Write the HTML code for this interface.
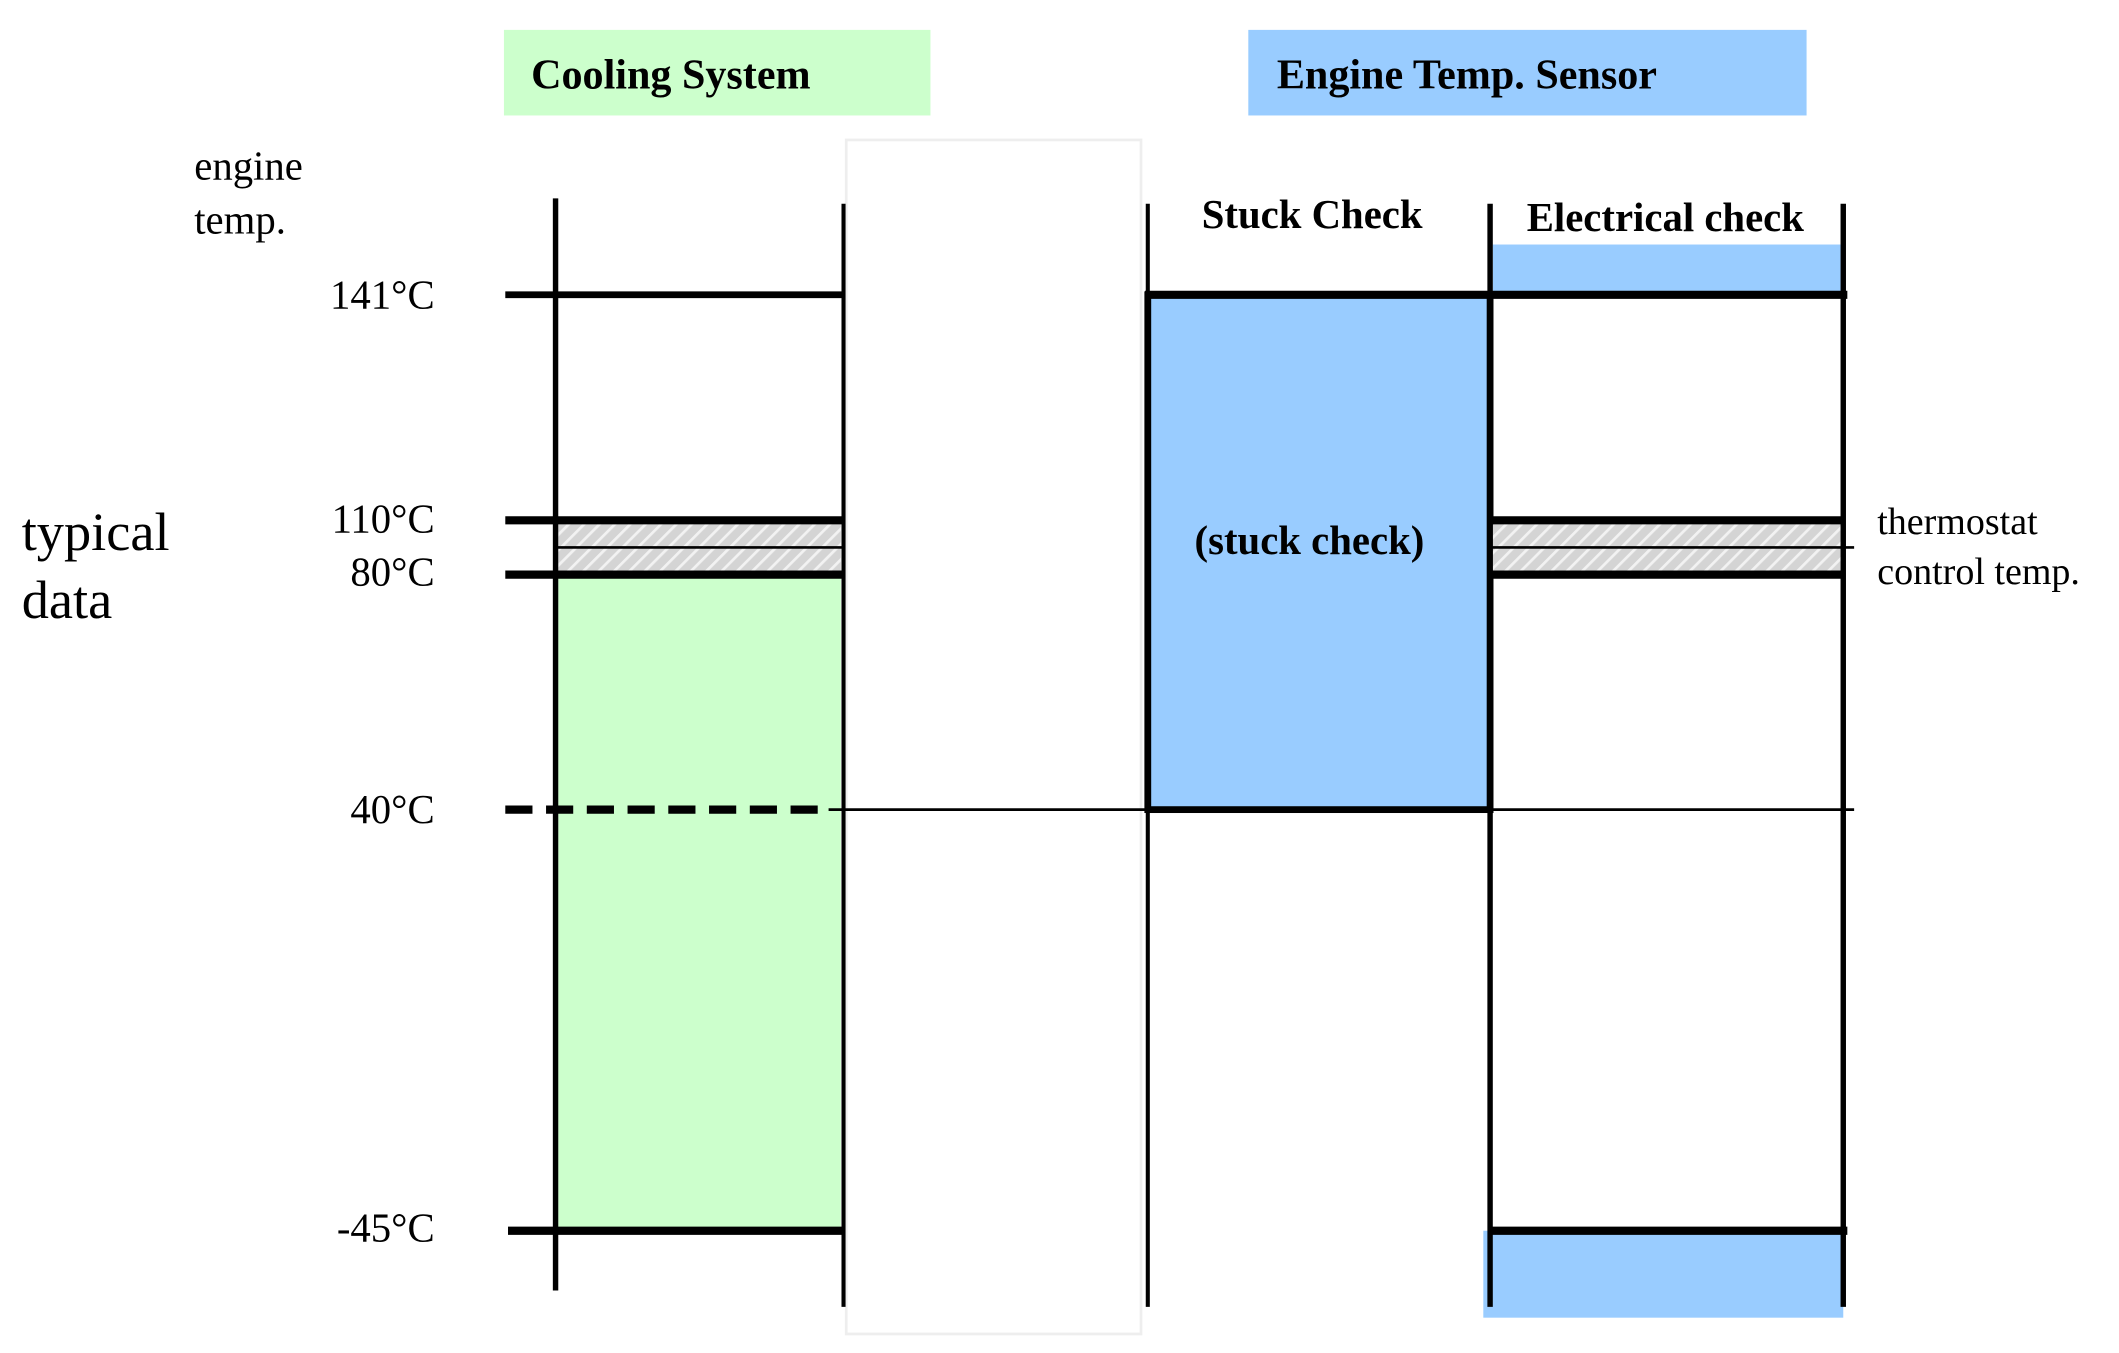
<!DOCTYPE html>
<html><head><meta charset="utf-8"><style>
html,body{margin:0;padding:0;background:#fff;}
svg{display:block;}
text{font-family:"Liberation Serif",serif;fill:#000;}
</style></head><body>
<svg width="2119" height="1353" viewBox="0 0 1560 996" preserveAspectRatio="none" xmlns="http://www.w3.org/2000/svg">
<defs>
<pattern id="h" width="8" height="8" patternUnits="userSpaceOnUse" patternTransform="rotate(45)">
<rect width="8" height="8" fill="#d4d4d4"/><rect width="2" height="8" fill="#f2f2f2"/>
</pattern>
</defs>
<rect x="371" y="22" width="314" height="63" fill="#ccffcc"/>
<text x="391" y="65" font-size="31" font-weight="bold">Cooling System</text>
<rect x="919" y="22" width="411" height="63" fill="#99ccff"/>
<text x="940" y="65" font-size="31" font-weight="bold">Engine Temp. Sensor</text>
<rect x="623" y="103" width="217" height="879" fill="none" stroke="#eeeeee" stroke-width="2"/>

<text x="143" y="132" font-size="30">engine</text>
<text x="143" y="172" font-size="30">temp.</text>
<text x="16" y="405" font-size="40">typical</text>
<text x="16" y="455" font-size="40">data</text>
<text x="320" y="227" font-size="30" text-anchor="end">141°C</text>
<text x="320" y="392" font-size="30" text-anchor="end">110°C</text>
<text x="320" y="431" font-size="30" text-anchor="end">80°C</text>
<text x="320" y="606" font-size="30" text-anchor="end">40°C</text>
<text x="320" y="914" font-size="30" text-anchor="end">-45°C</text>

<!-- cooling column -->
<rect x="411" y="423" width="208" height="484" fill="#ccffcc"/>
<rect x="411" y="386" width="208" height="35" fill="url(#h)"/>
<line x1="409" y1="146" x2="409" y2="950" stroke="#000" stroke-width="4"/>
<line x1="621" y1="150" x2="621" y2="962" stroke="#000" stroke-width="3"/>
<line x1="372" y1="217" x2="621" y2="217" stroke="#000" stroke-width="5"/>
<line x1="372" y1="383" x2="621" y2="383" stroke="#000" stroke-width="6"/>
<line x1="409" y1="403" x2="621" y2="403" stroke="#000" stroke-width="2"/>
<line x1="372" y1="423" x2="621" y2="423" stroke="#000" stroke-width="6"/>
<line x1="372" y1="596" x2="610" y2="596" stroke="#000" stroke-width="6" stroke-dasharray="20,10"/>
<line x1="610" y1="596" x2="1365" y2="596" stroke="#000" stroke-width="2"/>
<line x1="374" y1="906" x2="621" y2="906" stroke="#000" stroke-width="6"/>

<!-- sensor columns -->
<rect x="1099" y="180" width="256" height="37" fill="#99ccff"/>
<rect x="1092" y="906" width="265" height="64" fill="#99ccff"/>
<rect x="845" y="217" width="252" height="379" fill="#99ccff" stroke="#000" stroke-width="5"/>
<rect x="1099" y="386" width="256" height="35" fill="url(#h)"/>
<line x1="845" y1="150" x2="845" y2="962" stroke="#000" stroke-width="3"/>
<line x1="1097" y1="150" x2="1097" y2="962" stroke="#000" stroke-width="4"/>
<line x1="1357" y1="150" x2="1357" y2="962" stroke="#000" stroke-width="4"/>
<line x1="843" y1="217" x2="1360" y2="217" stroke="#000" stroke-width="6"/>
<line x1="1097" y1="383" x2="1357" y2="383" stroke="#000" stroke-width="6"/>
<line x1="1097" y1="403" x2="1365" y2="403" stroke="#000" stroke-width="2"/>
<line x1="1097" y1="423" x2="1357" y2="423" stroke="#000" stroke-width="6"/>
<line x1="1097" y1="906" x2="1360" y2="906" stroke="#000" stroke-width="6"/>

<text x="966" y="168" font-size="30" font-weight="bold" text-anchor="middle">Stuck Check</text>
<text x="1226" y="170" font-size="30" font-weight="bold" text-anchor="middle">Electrical check</text>
<text x="964" y="408" font-size="30" font-weight="bold" text-anchor="middle">(stuck check)</text>
<text x="1382" y="393" font-size="28">thermostat</text>
<text x="1382" y="430" font-size="28">control temp.</text>
</svg>
</body></html>
